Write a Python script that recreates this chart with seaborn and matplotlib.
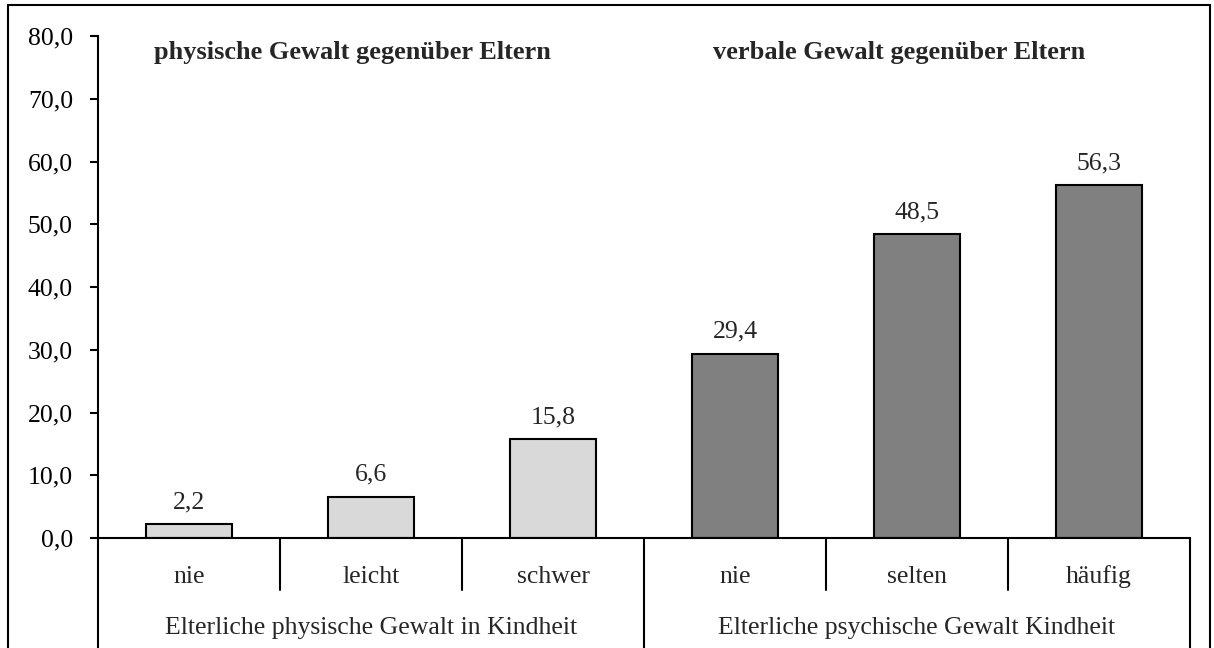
import numpy as np
import pandas as pd
import matplotlib
matplotlib.use("Agg")
import matplotlib.pyplot as plt
import matplotlib.transforms as mtransforms
from matplotlib.patches import Rectangle
import seaborn as sns

# data
categories = ["nie", "leicht", "schwer", "nie", "selten", "häufig"]
values = [2.2, 6.6, 15.8, 29.4, 48.5, 56.3]
groups = ["Elterliche physische Gewalt in Kindheit"] * 3 + \
         ["Elterliche psychische Gewalt Kindheit"] * 3
group_labels = ["Elterliche physische Gewalt in Kindheit",
                "Elterliche psychische Gewalt Kindheit"]
panel_titles = ["physische Gewalt gegenüber Eltern",
                "verbale Gewalt gegenüber Eltern"]
y_ticks = [0, 10, 20, 30, 40, 50, 60, 70, 80]

df = pd.DataFrame({"pos": [str(i) for i in range(len(values))],
                   "wert": values, "gruppe": groups})

sns.set_style("white")
plt.rcParams['font.family'] = ['Liberation Serif']
FS = 18.5

fig = plt.figure(figsize=(12.14, 6.48), dpi=100)
ax = fig.add_axes([98/1214, 1-538/648, (1190-98)/1214, (538-36)/648])

sns.barplot(data=df, x="pos", y="wert", hue="gruppe", dodge=False,
            palette=["#d9d9d9", "#808080"], width=0.47,
            edgecolor="black", linewidth=1.5, legend=False, ax=ax)

ax.set_xlim(-0.5, 5.5)
ax.set_ylim(0, 80)
ax.set_yticks(y_ticks)
ax.set_yticklabels([f"{t:.1f}".replace(".", ",") for t in y_ticks], fontsize=FS)
ax.tick_params(axis="y", left=True, direction="out", length=6, width=1.5,
               pad=12, colors="black")
ax.tick_params(axis="x", bottom=False, length=0)
ax.set_xticklabels([])
ax.set_xlabel("")
ax.set_ylabel("")
for s in ["top", "right"]:
    ax.spines[s].set_visible(False)
for s in ["left", "bottom"]:
    ax.spines[s].set_linewidth(1.5)
    ax.spines[s].set_color("black")

# value labels
for i, v in enumerate(values):
    ax.text(i, v + 1.7, f"{v:.1f}".replace(".", ","), ha="center", va="bottom",
            fontsize=FS)

# multi-level category axis
trans = mtransforms.blended_transform_factory(ax.transData, ax.transAxes)
for i, c in enumerate(categories):
    ax.text(i, -0.077, c, ha="center", va="center", fontsize=FS, transform=trans)
for g, lab in enumerate(group_labels):
    ax.text(g * 3 + 1, -0.179, lab, ha="center", va="center", fontsize=FS,
            transform=trans)
for k in range(7):
    x = k - 0.5
    bottom = -0.25 if k in (0, 3, 6) else -0.104
    ax.plot([x, x], [0, bottom], color="black", lw=1.5, clip_on=False,
            transform=trans)

# panel titles
for g, t in enumerate(panel_titles):
    ax.text(g * 3 + 0.9, 77.4, t, ha="center", va="center", fontsize=19,
            fontweight="bold")

# chart frame
fig.patches.append(Rectangle((8/1214, -0.05), (1210-8)/1214, 1.05 - 5/648,
                             transform=fig.transFigure, fill=False,
                             edgecolor="black", linewidth=1.5))

fig.savefig("out.png", dpi=100)
